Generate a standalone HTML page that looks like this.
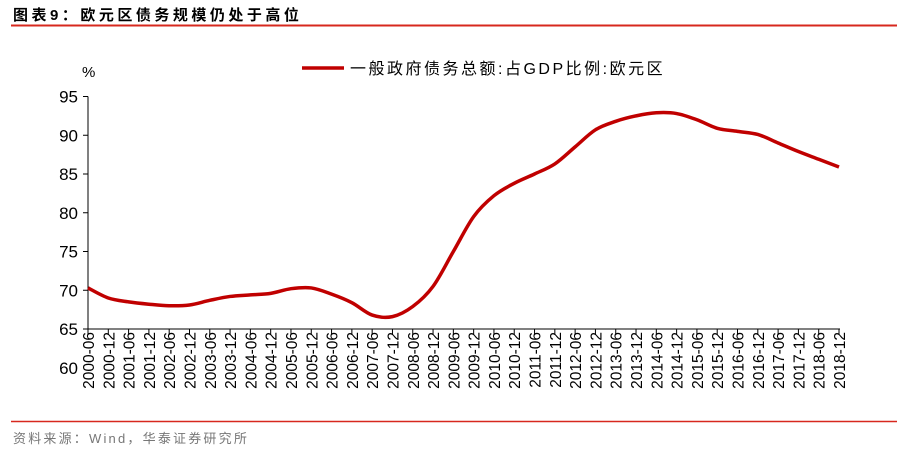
<!DOCTYPE html>
<html><head><meta charset="utf-8"><style>
body{margin:0;background:#fff;width:905px;height:450px;overflow:hidden;font-family:"Liberation Sans","Noto Sans CJK SC",sans-serif;}
</style></head><body>
<svg width="905" height="450" xmlns="http://www.w3.org/2000/svg">
<text x="13" y="20" font-size="15" font-weight="bold" fill="#000" letter-spacing="3.5" font-family="'Liberation Sans','Noto Sans CJK SC',sans-serif">图表9：欧元区债务规模仍处于高位</text>
<line x1="11" y1="25.5" x2="897" y2="25.5" stroke="#d7281e" stroke-width="2"/>
<text x="82" y="77" font-size="15" fill="#000">%</text>
<line x1="302" y1="68" x2="344" y2="68" stroke="#c00000" stroke-width="3.5"/>
<text x="350" y="74" font-size="16" fill="#000" letter-spacing="2.5" font-family="'Liberation Sans','Noto Sans CJK SC',sans-serif">一般政府债务总额:占GDP比例:欧元区</text>
<g id="axes"></g>
<path id="series" fill="none" stroke="#c00000" stroke-width="3.5" stroke-linejoin="round"/>
<line x1="11" y1="421.5" x2="897" y2="421.5" stroke="#d7281e" stroke-width="1.5"/>
<text x="13" y="443" font-size="13" fill="#777" letter-spacing="2.2" font-family="'Liberation Sans','Noto Sans CJK SC',sans-serif">资料来源：Wind，华泰证券研究所</text>
</svg>
<script>
const categories=["2000-06","2000-12","2001-06","2001-12","2002-06","2002-12","2003-06","2003-12","2004-06","2004-12","2005-06","2005-12","2006-06","2006-12","2007-06","2007-12","2008-06","2008-12","2009-06","2009-12","2010-06","2010-12","2011-06","2011-12","2012-06","2012-12","2013-06","2013-12","2014-06","2014-12","2015-06","2015-12","2016-06","2016-12","2017-06","2017-12","2018-06","2018-12"];
const values=[70.3,69.0,68.5,68.2,68.0,68.1,68.7,69.2,69.4,69.6,70.2,70.3,69.5,68.4,66.8,66.6,67.9,70.5,75.0,79.5,82.2,83.8,85.0,86.3,88.5,90.7,91.8,92.5,92.9,92.8,92.0,90.9,90.5,90.1,89.0,87.9,86.9,85.9];
const yTicks=[60,65,70,75,80,85,90,95];
const NS="http://www.w3.org/2000/svg";
const x0=88,x1=839,axisY=329;
function xs(i){return x0+(x1-x0)*i/(categories.length-1);}
function ys(v){return 329-(v-65)*7.75;}
const g=document.getElementById('axes');
function mk(t,a){const e=document.createElementNS(NS,t);for(const k in a)e.setAttribute(k,a[k]);g.appendChild(e);return e;}
let l=mk('line',{x1:x0,y1:ys(95),x2:x0,y2:axisY,stroke:'#000','stroke-width':1});


yTicks.forEach(v=>{
 const t=mk('text',{x:x0-10,y:ys(v)+6,'text-anchor':'end','font-size':17,fill:'#000'});
 t.textContent=v;
 
 
 if(v>=65){const tk=mk('line',{x1:x0-5,y1:ys(v),x2:x0,y2:ys(v),stroke:'#000'});
 
 }
});
l=mk('line',{x1:x0,y1:axisY,x2:x1+1,y2:axisY,stroke:'#000','stroke-width':1});


categories.forEach((c,i)=>{
 const x=xs(i);
 const tk=mk('line',{x1:x,y1:axisY,x2:x,y2:axisY+6,stroke:'#000'});
 
 
 const t=mk('text',{x:0,y:0,'text-anchor':'end','font-size':15.5,fill:'#000',transform:`translate(${x+6},${axisY+3}) rotate(-90)`});
 t.textContent=c;
 
 
});
const pts=values.map((v,i)=>[xs(i),ys(v)]);
let d=`M${pts[0][0]},${pts[0][1]}`;
for(let i=0;i<pts.length-1;i++){
 const p0=pts[Math.max(i-1,0)],p1=pts[i],p2=pts[i+1],p3=pts[Math.min(i+2,pts.length-1)];
 const c1=[p1[0]+(p2[0]-p0[0])/6,p1[1]+(p2[1]-p0[1])/6];
 const c2=[p2[0]-(p3[0]-p1[0])/6,p2[1]-(p3[1]-p1[1])/6];
 d+=` C${c1[0]},${c1[1]} ${c2[0]},${c2[1]} ${p2[0]},${p2[1]}`;
}
document.getElementById('series').setAttribute('d',d);
</script>
</body></html>
